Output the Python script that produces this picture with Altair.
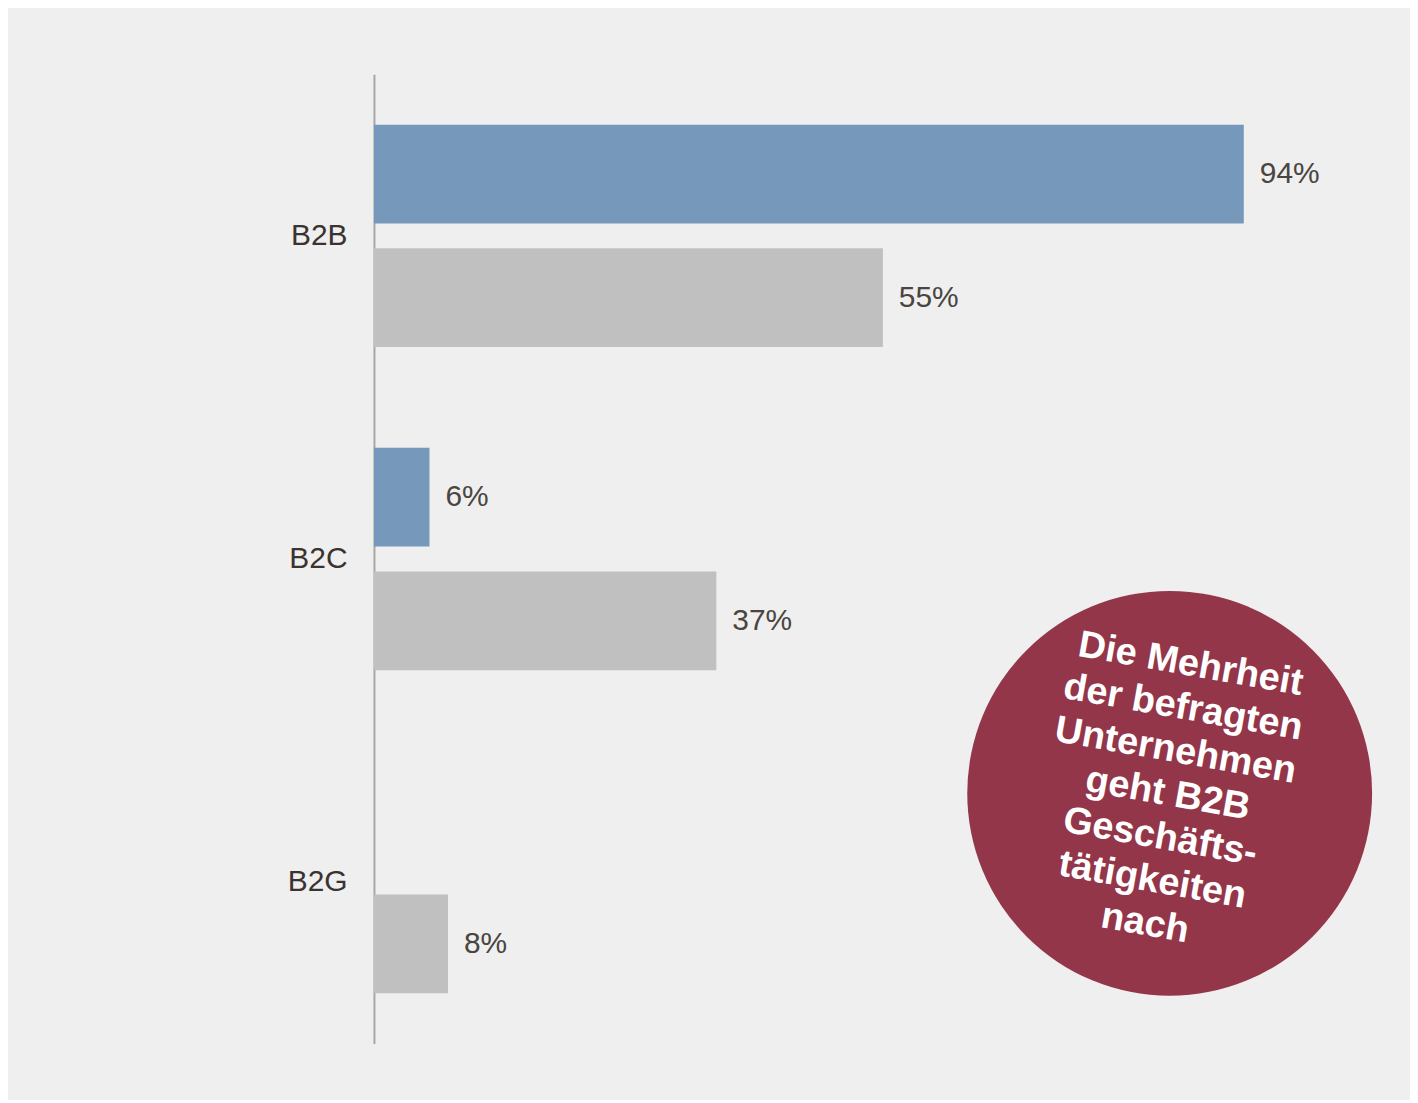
import altair as alt
import pandas as pd

categories = ["B2B", "B2B", "B2C", "B2C", "B2G"]
series = ["Serie 1", "Serie 2", "Serie 1", "Serie 2", "Serie 2"]
values = [94, 55, 6, 37, 8]
cat_order = ["B2B", "B2C", "B2G"]
series_order = ["Serie 1", "Serie 2"]
series_colors = ["#7699bb", "#c0c0c0"]
note_lines = ["Die Mehrheit", "der befragten", "Unternehmen", "geht B2B",
              "Geschäfts-", "tätigkeiten", "nach"]

df = pd.DataFrame({"cat": categories, "series": series, "value": values})
df["label"] = [f"{v}%" for v in values]

W, H = 928, 972

x = alt.X("value:Q", scale=alt.Scale(domain=[0, 100]), axis=None)
y = alt.Y(
    "cat:N",
    sort=cat_order,
    scale=alt.Scale(domain=cat_order, paddingInner=0, paddingOuter=0),
    axis=alt.Axis(
        title=None, ticks=False, grid=False, labelFontSize=30,
        labelFont="Liberation Sans", labelColor="#3a3330", labelPadding=27,
        domainColor="#a6a6a6", domainWidth=2,
    ),
)
yo = alt.YOffset(
    "series:N",
    scale=alt.Scale(domain=series_order, paddingInner=0.2016, paddingOuter=0.407),
)
color = alt.Color("series:N", scale=alt.Scale(domain=series_order, range=series_colors), legend=None)

base = alt.Chart(df)
bars = base.mark_bar().encode(x=x, y=y, yOffset=yo, color=color)
labels = base.mark_text(
    align="left", baseline="middle", dx=16, fontSize=30,
    font="Liberation Sans", color="#4a4540",
).encode(x=x, y=y, yOffset=yo, text="label:N")

note_df = pd.DataFrame({"k": [0]})
circle = alt.Chart(note_df).mark_circle(
    size=164836, color="#943649", opacity=1
).encode(x=alt.value(798), y=alt.value(721))
note = alt.Chart(note_df).mark_text(
    text=note_lines, angle=10, fontSize=38, fontWeight="bold",
    font="Liberation Sans", color="white", lineHeight=44,
    align="center", baseline="middle",
).encode(x=alt.value(819), y=alt.value(592))

chart = (
    alt.layer(bars, labels, circle, note)
    .properties(
        width=W, height=H,
        autosize=alt.AutoSizeParams(type="none"),
        padding={"left": 367, "top": 65, "right": 111, "bottom": 55},
        background="#efefef",
    )
    .configure_view(stroke=None)
)

chart.save("out.html", embed_options={"renderer": "svg", "actions": False})
